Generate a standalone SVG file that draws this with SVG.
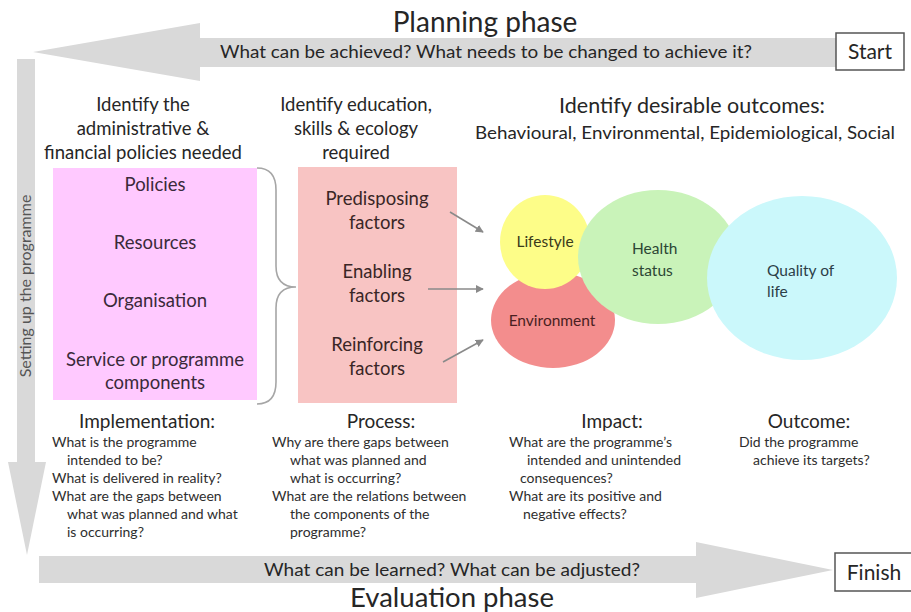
<svg xmlns="http://www.w3.org/2000/svg" width="911" height="612" viewBox="0 0 911 612">
<style>
text{font-family:Lato,"Open Sans","Liberation Sans",sans-serif;fill:#262626}
.h{font-size:18.5px;text-anchor:middle}
.b{font-size:18.5px;text-anchor:middle;fill:#3a2a3a}
.q{font-size:14px;fill:#2e2e2e}
.t{font-size:19px;text-anchor:middle}
.c{font-size:15.5px}
.arr{fill:#d9d9d9}
.box{fill:#fff;stroke:#555;stroke-width:1.5}
.con{stroke:#8a8a8a;stroke-width:1.6;fill:none;marker-end:url(#ah)}
</style>
<defs>
<marker id="ah" viewBox="0 0 10 10" refX="9" refY="5" markerWidth="5" markerHeight="5" orient="auto">
<path d="M0,0 L10,5 L0,10 z" fill="#8a8a8a"/>
</marker>
</defs>
<rect width="911" height="612" fill="#fff"/>

<g id="planning-arrow">
<polygon class="arr" points="836,38 200,38 200,23 33,52 200,81 200,67 836,67"/>
<text x="485" y="32" font-size="28" text-anchor="middle">Planning phase</text>
<text x="486" y="58" font-size="16.5" text-anchor="middle" textLength="532" lengthAdjust="spacingAndGlyphs">What can be achieved? What needs to be changed to achieve it?</text>
</g>
<g id="start">
<rect class="box" x="836" y="33" width="68" height="37"/>
<text x="870" y="59" font-size="21" text-anchor="middle" font-family="Liberation Sans,Arial,sans-serif">Start</text>
</g>

<g id="setup-arrow">
<polygon class="arr" points="17,59 35,59 35,462 46,462 27,555 8,462 17,462"/>
<text transform="translate(31,286) rotate(-90)" font-size="16" text-anchor="middle" style="fill:#555">Setting up the programme</text>
</g>

<g id="evaluation-arrow">
<polygon class="arr" points="39,556 696,556 696,542 833,570 696,598 696,583 39,583"/>
<text x="452" y="576" font-size="16.5" text-anchor="middle" textLength="376" lengthAdjust="spacingAndGlyphs">What can be learned?  What can be adjusted?</text>
<text x="452" y="607" font-size="27.5" text-anchor="middle">Evaluation phase</text>
</g>
<g id="finish">
<rect class="box" x="835" y="553" width="80" height="38"/>
<text x="874" y="580" font-size="21" text-anchor="middle" font-family="Liberation Sans,Arial,sans-serif">Finish</text>
</g>

<g id="admin-heading">
<text class="h" x="143" y="111">Identify the</text>
<text class="h" x="143" y="135">administrative &amp;</text>
<text class="h" x="143" y="159">financial policies needed</text>
</g>
<g id="admin-box">
<rect x="53" y="168" width="204" height="232" fill="#ffc9ff"/>
<text class="b" x="155" y="191">Policies</text>
<text class="b" x="155" y="249">Resources</text>
<text class="b" x="155" y="307">Organisation</text>
<text class="b" x="155" y="366">Service or programme</text>
<text class="b" x="155" y="389">components</text>
</g>
<g id="brace">
<path d="M257,168 Q276,168 276,190 L276,266 Q276,287 296,287 Q276,287 276,308 L276,382 Q276,404 257,404" fill="none" stroke="#a6a6a6" stroke-width="1.6"/>
</g>

<g id="edu-heading">
<text class="h" x="356" y="111">Identify education,</text>
<text class="h" x="356" y="135">skills &amp; ecology</text>
<text class="h" x="356" y="159">required</text>
</g>
<g id="factors-box">
<rect x="298" y="167" width="159" height="236" fill="#f8c4c3"/>
<text class="b" x="377" y="205" style="fill:#3a2626">Predisposing</text>
<text class="b" x="377" y="229" style="fill:#3a2626">factors</text>
<text class="b" x="377" y="278" style="fill:#3a2626">Enabling</text>
<text class="b" x="377" y="302" style="fill:#3a2626">factors</text>
<text class="b" x="377" y="351" style="fill:#3a2626">Reinforcing</text>
<text class="b" x="377" y="375" style="fill:#3a2626">factors</text>
</g>

<g id="connectors">
<line class="con" x1="450" y1="212" x2="483" y2="232"/>
<line class="con" x1="428" y1="289" x2="483" y2="289"/>
<line class="con" x1="443" y1="362" x2="483" y2="340"/>
</g>

<g id="outcomes-heading">
<text x="692" y="113" font-size="21.5" text-anchor="middle">Identify desirable outcomes:</text>
<text x="685" y="139" font-size="17" text-anchor="middle" textLength="420" lengthAdjust="spacingAndGlyphs">Behavioural, Environmental, Epidemiological, Social</text>
</g>

<g id="environment">
<ellipse cx="553" cy="320" rx="62" ry="48" fill="#f38d8d"/>
<text class="c" x="552" y="326" text-anchor="middle" style="fill:#4a1f22">Environment</text>
</g>
<g id="lifestyle">
<ellipse cx="545" cy="242" rx="45" ry="47" fill="#fdfd88"/>
<text class="c" x="545" y="247" text-anchor="middle" style="fill:#3a3a1a">Lifestyle</text>
</g>
<g id="health-status">
<ellipse cx="658" cy="257" rx="80" ry="67" fill="#c9f3b9"/>
<text class="c" x="632" y="254" style="fill:#2c4634">Health</text>
<text class="c" x="632" y="276" style="fill:#2c4634">status</text>
</g>
<g id="quality-of-life">
<ellipse cx="802" cy="278" rx="95" ry="82" fill="#cbf8fb"/>
<text class="c" x="767" y="276" style="fill:#2c3e48">Quality of</text>
<text class="c" x="767" y="297" style="fill:#2c3e48">life</text>
</g>

<g id="implementation">
<text class="t" x="147" y="428">Implementation:</text>
<text class="q" x="52" y="447">What is the programme</text>
<text class="q" x="67" y="465">intended to be?</text>
<text class="q" x="52" y="483">What is delivered in reality?</text>
<text class="q" x="52" y="501">What are the gaps between</text>
<text class="q" x="67" y="519">what was planned and what</text>
<text class="q" x="67" y="537">is occurring?</text>
</g>
<g id="process">
<text class="t" x="381" y="428">Process:</text>
<text class="q" x="272" y="447">Why are there gaps between</text>
<text class="q" x="290" y="465">what was planned and</text>
<text class="q" x="290" y="483">what is occurring?</text>
<text class="q" x="272" y="501">What are the relations between</text>
<text class="q" x="290" y="519">the components of the</text>
<text class="q" x="290" y="537">programme?</text>
</g>
<g id="impact">
<text class="t" x="612" y="428">Impact:</text>
<text class="q" x="509" y="447">What are the programme’s</text>
<text class="q" x="527" y="465">intended and unintended</text>
<text class="q" x="520" y="483">consequences?</text>
<text class="q" x="509" y="501">What are its positive and</text>
<text class="q" x="523" y="519">negative effects?</text>
</g>
<g id="outcome">
<text class="t" x="809" y="428">Outcome:</text>
<text class="q" x="739" y="447">Did the programme</text>
<text class="q" x="753" y="465">achieve its targets?</text>
</g>
</svg>
